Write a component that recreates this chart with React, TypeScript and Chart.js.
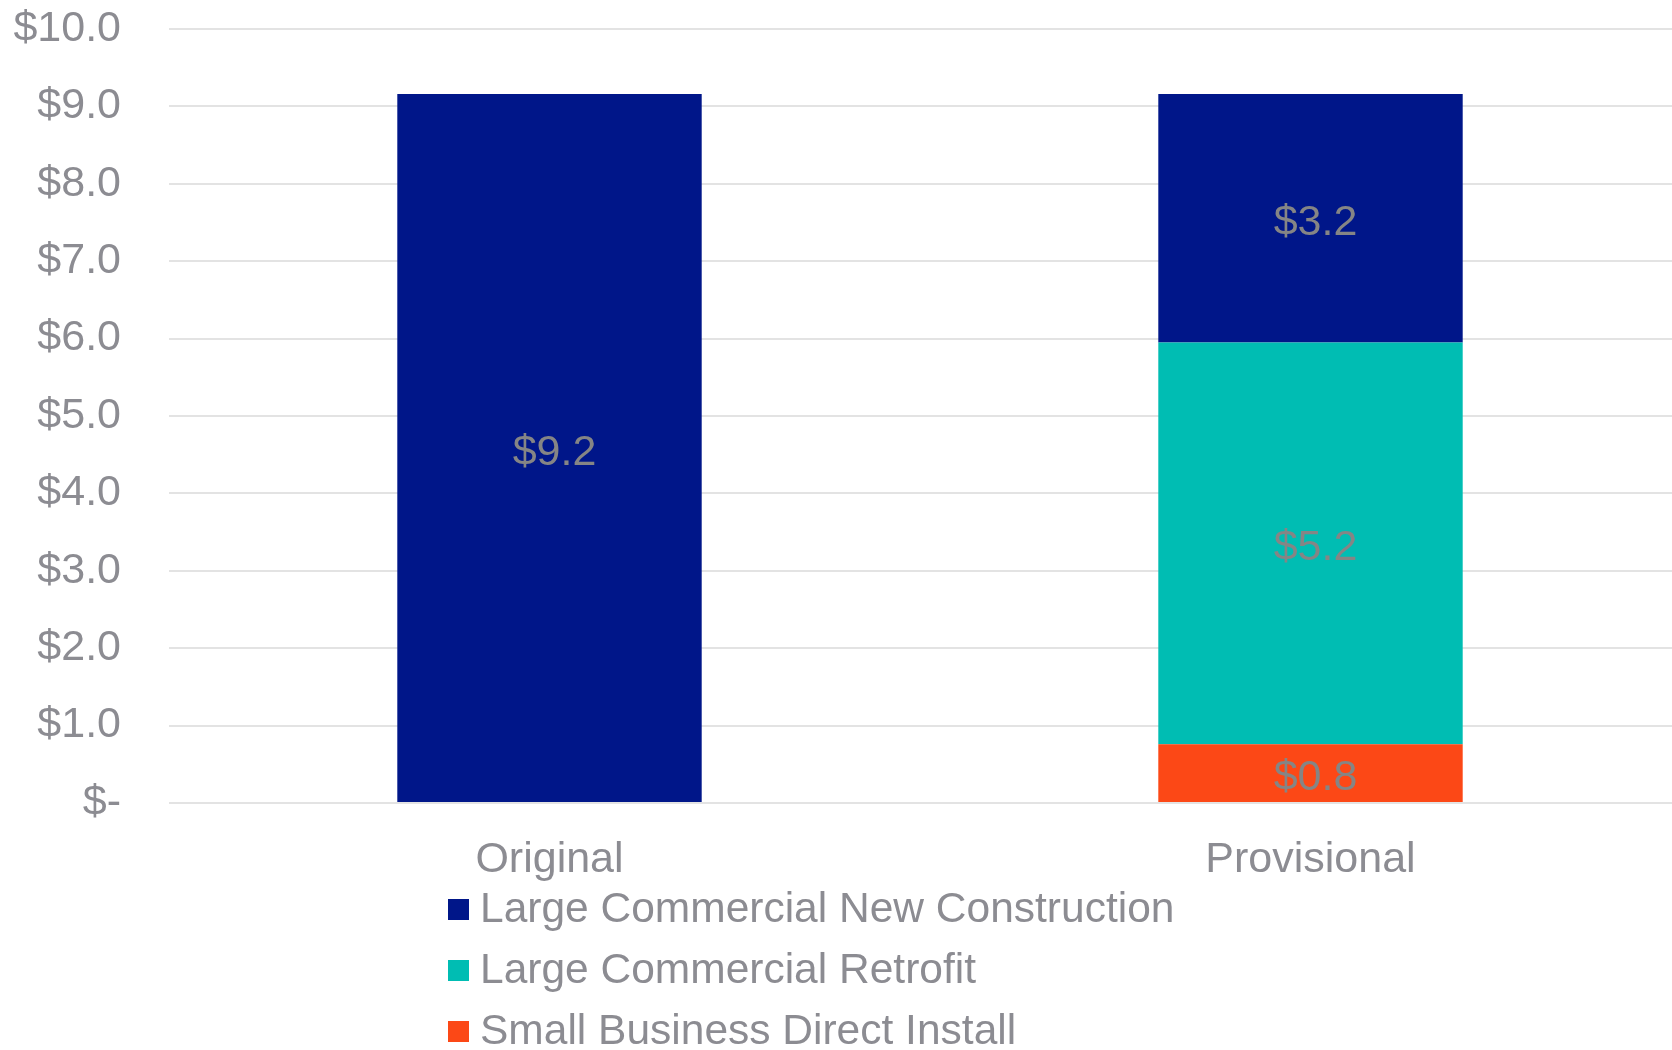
import React, { useEffect, useRef } from "react";
import { Chart, registerables } from "chart.js";

Chart.register(...registerables);

const categories = ["Original", "Provisional"];
const seriesNames = [
  "Small Business Direct Install",
  "Large Commercial Retrofit",
  "Large Commercial New Construction",
];
const smallBusiness = [null, 0.76];
const largeRetrofit = [null, 5.19];
const largeNewConstruction = [9.16, 3.21];
const seriesColors = ["#FC4816", "#00BDB3", "#001689"];
const yTicks = [0, 1, 2, 3, 4, 5, 6, 7, 8, 9, 10];

const FONT = "'Liberation Sans', Arial, sans-serif";
const FS = 43;
const LEGEND_FS = 42.5;
const GREY = "#8C8C92";
const LABEL_GREY = "#858585";

const fmt = (v: number) => (v === 0 ? "$-" : "$" + v.toFixed(1));

const dataLabelPlugin = {
  id: "dataLabels",
  afterDatasetsDraw(chart: any) {
    const ctx = chart.ctx;
    ctx.save();
    ctx.font = `${FS}px ${FONT}`;
    ctx.fillStyle = LABEL_GREY;
    ctx.textAlign = "center";
    ctx.textBaseline = "middle";
    chart.data.datasets.forEach((ds: any, di: number) => {
      const meta = chart.getDatasetMeta(di);
      meta.data.forEach((el: any, i: number) => {
        const v = ds.data[i];
        if (v == null) return;
        const p = el.getCenterPoint();
        ctx.fillText(fmt(v), p.x + 5, p.y + 5);
      });
    });
    ctx.restore();
  },
};

const legendPlugin = {
  id: "customLegend",
  afterDraw(chart: any) {
    const ctx = chart.ctx;
    const ds = chart.data.datasets.slice().reverse();
    const base = chart.chartArea.bottom;
    const x0 = 448;
    ctx.save();
    ctx.font = `${LEGEND_FS}px ${FONT}`;
    ctx.textBaseline = "middle";
    ctx.textAlign = "left";
    ds.forEach((d: any, i: number) => {
      const cy = base + 106 + i * 61;
      ctx.fillStyle = d.backgroundColor;
      ctx.fillRect(x0, cy - 10, 21, 21);
      ctx.fillStyle = GREY;
      ctx.fillText(d.label, x0 + 32, cy + 1);
    });
    ctx.restore();
  },
};

export default function App() {
  const ref = useRef<HTMLCanvasElement | null>(null);
  useEffect(() => {
    if (!ref.current) return;
    const seriesData = [smallBusiness, largeRetrofit, largeNewConstruction];
    const chart = new Chart(ref.current, {
      type: "bar",
      data: {
        labels: categories,
        datasets: seriesNames.map((name, i) => ({
          label: name,
          data: seriesData[i],
          backgroundColor: seriesColors[i],
          borderWidth: 0,
          barPercentage: 1,
          categoryPercentage: 0.4,
        })),
      },
      options: {
        responsive: false,
        animation: false,
        devicePixelRatio: 1,
        layout: { padding: { top: 29, left: 0, right: 0, bottom: 167 } },
        plugins: {
          legend: { display: false },
          tooltip: { enabled: false },
        },
        scales: {
          x: {
            stacked: true,
            grid: { display: false },
            border: { display: false },
            ticks: {
              color: GREY,
              font: { family: FONT, size: FS },
              padding: 23,
              maxRotation: 0,
            },
            afterFit(scale: any) {
              scale.height = 80;
              scale.paddingLeft = 0;
              scale.paddingRight = 0;
            },
          },
          y: {
            stacked: true,
            min: 0,
            max: 10,
            afterBuildTicks(scale: any) {
              scale.ticks = yTicks.map((v) => ({ value: v }));
            },
            grid: { color: "#E3E3E3", lineWidth: 2, drawTicks: false },
            border: { display: false },
            ticks: {
              color: GREY,
              font: { family: FONT, size: FS },
              padding: 48,
              callback: (v: any) => fmt(Number(v)),
            },
            afterFit(scale: any) {
              scale.width = 169;
              scale.paddingTop = 0;
              scale.paddingBottom = 0;
            },
          },
        },
      },
      plugins: [dataLabelPlugin, legendPlugin],
    });
    return () => chart.destroy();
  }, []);
  return (
    <div
      style={{
        position: "fixed",
        left: 0,
        top: 0,
        width: 1672,
        height: 1050,
        overflow: "hidden",
        background: "#fff",
      }}
    >
      <canvas ref={ref} width={1691} height={1050} style={{ display: "block" }} />
    </div>
  );
}
